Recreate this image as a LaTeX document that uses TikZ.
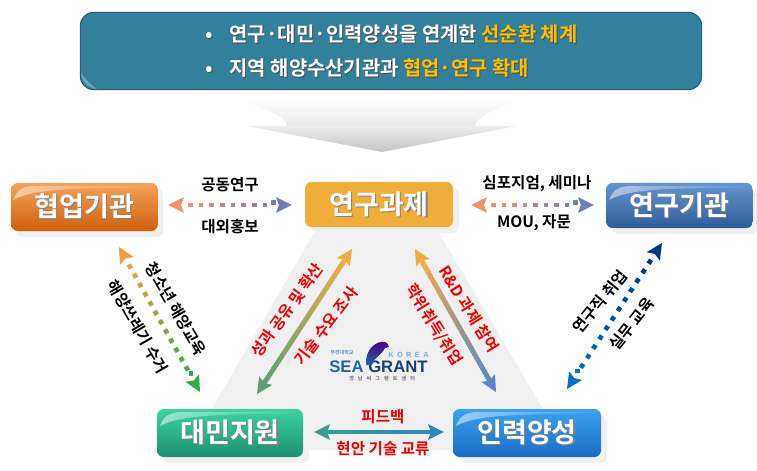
\documentclass[tikz,border=0pt]{standalone}
\usepackage{fontspec}
\setmainfont{Noto Sans CJK KR}[BoldFont={Noto Sans CJK KR Bold}]
\newfontfamily\logofont{Liberation Sans}
\usetikzlibrary{calc,fadings}
\definecolor{lblred}{HTML}{F00000}
\definecolor{bannerfill}{HTML}{33809C}
\definecolor{hl}{HTML}{FFC000}
\definecolor{ao}{HTML}{F29268}\definecolor{ab}{HTML}{6F7FBE}
\definecolor{co}{HTML}{F0A040}\definecolor{cg}{HTML}{3AA84A}
\definecolor{do}{HTML}{EFAC45}\definecolor{dg}{HTML}{5C9E78}
\definecolor{eb}{HTML}{5A86C8}
\definecolor{fn}{HTML}{003A7D}\definecolor{fb}{HTML}{0A6FC4}
\definecolor{gt}{HTML}{35A090}\definecolor{gb}{HTML}{2F86C0}
\tikzset{
 x=0.75pt,y=-0.75pt,
 boxbase/.style={rounded corners=5pt,minimum height=36pt,inner sep=0pt,font=\bfseries\fontsize{20.3}{22}\selectfont,text=white},
 lbl/.style={font=\bfseries\fontsize{11.7}{13}\selectfont,inner sep=0pt},
 redlbl/.style={lbl,text=lblred},
 softshadow/.style={fill=black!6,rounded corners=5pt,draw=none},
 bannertext/.style={font=\bfseries\fontsize{14.9}{16}\selectfont,anchor=west,inner sep=0pt},
 logotiny/.style={font=\bfseries\fontsize{3.8}{4}\selectfont,inner sep=0pt},
}
\newcommand{\shtext}[1]{\makebox[0pt][l]{\raisebox{-.9pt}{\hspace{.9pt}\textcolor{black!50}{#1}}}#1}
% head: tip, towards, colour, length, half width
\newcommand{\arrowhead}[5]{\fill[#3] (#1) -- ($(#1)!#4!(#2)!#5!90:(#2)$) -- ($(#1)!.82*#4!(#2)$) -- ($(#1)!#4!(#2)!#5!-90:(#2)$) -- cycle;}
% solid gradient double arrow
\newcommand{\solidarrow}[4]{%
 \coordinate (sa) at ($(#1)!10pt!(#2)$);\coordinate (sb) at ($(#2)!10pt!(#1)$);
 \foreach \i in {0,...,39}{\pgfmathsetmacro\s{\i/40}\pgfmathsetmacro\e{(\i+1.4)/40}\pgfmathsetmacro\pc{100*\s}
  \draw[line width=3.6pt,color={#4!\pc!#3}] ($(sa)!\s!(sb)$) -- ($(sa)!\e!(sb)$);}
 \arrowhead{#1}{#2}{#3}{12pt}{5.9pt}\arrowhead{#2}{#1}{#4}{12pt}{5.9pt}}
% dotted gradient double arrow; #5 number of squares
\newcommand{\dotarrow}[5]{%
 \coordinate (sa) at ($(#1)!15pt!(#2)$);\coordinate (sb) at ($(#2)!14pt!(#1)$);
 \pgfmathtruncatemacro\nn{#5-1}
 \foreach \i in {0,...,\nn}{\pgfmathsetmacro\s{\i/\nn}\pgfmathsetmacro\pc{100*\s}
  \draw[line width=3.5pt,color={#4!\pc!#3}] ($(sa)!\s!(sb)$) -- ($(sa)!\s!(sb)!3.5pt!(sb)$);}
 \arrowhead{#1}{#2}{#3}{12pt}{5.9pt}\arrowhead{#2}{#1}{#4}{12pt}{5.9pt}}
\newcommand{\swoosh}[3]{% x left, y top, right extent
 \fill[white,opacity=.5,path fading=east] (#1+3,#2+17) .. controls (#1+7,#2+6) and (#1+14,#2+3) .. (#1+26,#2+3) -- (#1+#3,#2+3) -- (#1+#3,#2+5) .. controls (#1+70,#2+5) and (#1+25,#2+5) .. (#1+3,#2+17) -- cycle;}
\begin{document}
\begin{tikzpicture}
\useasboundingbox (0,0) rectangle (757,471);
\fill[white] (0,0) rectangle (757,471);
% big arrow
\shade[top color=white,bottom color=black!9,draw=none] (241,100) .. controls (270,110) and (287,118) .. (287,126) -- (475,126) .. controls (475,118) and (492,110) .. (519,100) -- cycle;
\shade[top color=black!7,bottom color=black!23,draw=none] (247,126) -- (517,126) -- (382,152) -- cycle;
% banner
\node[draw=bannerfill!75!black,line width=.8pt,fill=bannerfill,rounded corners=10pt,minimum width=466pt,minimum height=58pt,inner sep=0pt] (banner) at (391,51) {};
\fill[white,opacity=.3] (81,72) .. controls (82,84) and (90,88) .. (97,89) .. controls (90,84) and (85,80) .. (81,72) -- cycle;
\node[bannertext,text=black!70] (line1s) at (206,35) {•\hspace{.85em}연구·대민·인력양성을 연계한 선순환 체계};
\node[bannertext,text=black!70] (line2s) at (206,69) {•\hspace{.85em}지역 해양수산기관과 협업·연구 확대};
\node[bannertext,text=white] (line1) at (205,34) {•\hspace{.85em}연구·대민·인력양성을 연계한 \textcolor{hl}{선순환 체계}};
\node[bannertext,text=white] (line2) at (205,68) {•\hspace{.85em}지역 해양수산기관과 \textcolor{hl}{협업·연구 확대}};
% gray triangle
\fill[black!6] (314,233) -- (439,233) -- (543,409) -- (543,450) -- (212,450) -- (212,409) -- cycle;
% shadows
\fill[softshadow] (16,189) rectangle (163,237);
\fill[softshadow] (311,188) rectangle (459,233);
\fill[softshadow] (612,189) rectangle (757,234);
\fill[softshadow] (163,415) rectangle (309,463);
\fill[softshadow] (459,415) rectangle (607,463);
% boxes
\definecolor{t1}{HTML}{F6A25A}\definecolor{m1}{HTML}{E97F25}\definecolor{b1}{HTML}{CC5F0C}
\definecolor{t3}{HTML}{6595CF}\definecolor{b3}{HTML}{2E5C98}
\definecolor{t4}{HTML}{3DD2A2}\definecolor{b4}{HTML}{1E8F70}
\definecolor{t5}{HTML}{3CA2EE}\definecolor{b5}{HTML}{186CC4}
\definecolor{f2}{HTML}{EFAE3A}
\node[boxbase,minimum width=110pt,top color=t1,middle color=m1,bottom color=b1] (hyeop) at (84.5,207) {\shtext{협업기관}};
\node[boxbase,minimum width=111pt,minimum height=34pt,fill=f2] (yeon) at (379,204.5) {\shtext{연구과제}};
\node[boxbase,minimum width=110pt,minimum height=34pt,top color=t3,bottom color=b3] (gigwan) at (679.5,205.5) {\shtext{연구기관}};
\node[boxbase,minimum width=109.5pt,top color=t4,bottom color=b4] (daemin) at (230,433) {\shtext{대민지원}};
\node[boxbase,minimum width=111pt,top color=t5,bottom color=b5] (inryeok) at (527,433) {\shtext{인력양성}};
% gloss
\swoosh{10}{183}{145}
\swoosh{606}{183}{145}
\swoosh{157}{409}{144}
\swoosh{453}{409}{146}
% connector end points
\coordinate (a1) at (168,205); \coordinate (a2) at (292,205);
\coordinate (b1) at (471,205); \coordinate (b2) at (594,205);
\coordinate (c1) at (119,247); \coordinate (c2) at (200,392);
\coordinate (d1) at (352,249); \coordinate (d2) at (257,394);
\coordinate (e1) at (415,249); \coordinate (e2) at (496,392);
\coordinate (f1) at (662,243); \coordinate (f2) at (567,389);
\coordinate (g1) at (314,432); \coordinate (g2) at (444,432);
\dotarrow{a1}{a2}{ao}{ab}{9}
\dotarrow{b1}{b2}{ao}{ab}{9}
\dotarrow{c1}{c2}{co}{cg}{13}
\dotarrow{f1}{f2}{fn}{fb}{13}
\solidarrow{d1}{d2}{do}{dg}
\solidarrow{e1}{e2}{do}{eb}
\solidarrow{g1}{g2}{gt}{gb}
% labels
\node[lbl] (l1) at (230,185) {공동연구};
\node[lbl] (l2) at (230,227) {대외홍보};
\node[lbl] (l3) at (537,184) {심포지엄, 세미나};
\node[lbl] (l4) at (534,223) {MOU, 자문};
\node[lbl,rotate=-60] (l5) at (176,309) {청소년 해양교육};
\node[lbl,rotate=-60] (l6) at (138,327) {해양쓰레기 수거};
\node[redlbl,rotate=54] (l7) at (287,310) {성과 공유 및 확산};
\node[redlbl,rotate=53] (l8) at (326,326) {기술 수요 조사};
\node[redlbl,rotate=-58] (l9) at (469,309) {R\&D 과제 참여};
\node[redlbl,rotate=-58] (l10) at (434,325) {학위취득/취업};
\node[redlbl] (l11) at (383,417) {피드백};
\node[redlbl] (l12) at (383,449) {현안 기술 교류};
\node[lbl,rotate=51] (l13) at (600,302) {연구직 취업};
\node[lbl,rotate=52] (l14) at (632,324) {실무 교육};
% logo
\definecolor{logob}{HTML}{1D62AE}\definecolor{logon}{HTML}{1B3E78}
\node[font=\logofont\bfseries\fontsize{12.5}{13}\selectfont,inner sep=0pt,anchor=base west,text=logob] (sea) at (329,372) {SEA};
\node[font=\logofont\bfseries\fontsize{12.5}{13}\selectfont,inner sep=0pt,anchor=base west,text=logon] (grant) at (368,372) {GRANT};
\shade[top color=violet!75!blue!80!black,bottom color=logob] (366,365) .. controls (365,352) and (373,343) .. (381,342) .. controls (385,341) and (388,343) .. (389,347) -- (385,348) .. controls (381,356) and (375,356) .. (372,365) -- cycle;
\node[font=\logofont\bfseries\fontsize{5.6}{6}\selectfont,inner sep=0pt,anchor=west,text=cyan!60!blue!55] (korea) at (388,355) {K\hspace{.45em}O\hspace{.45em}R\hspace{.45em}E\hspace{.45em}A};
\node[logotiny,text=logob!70,anchor=west] (bukyung) at (330,353) {부경대학교};
\node[logotiny,text=black!60,anchor=west] (center) at (349,379) {영\hspace{.8em}남\hspace{.8em}씨\hspace{.8em}그\hspace{.8em}랜\hspace{.8em}트\hspace{.8em}센\hspace{.8em}터};
\end{tikzpicture}
\end{document}
